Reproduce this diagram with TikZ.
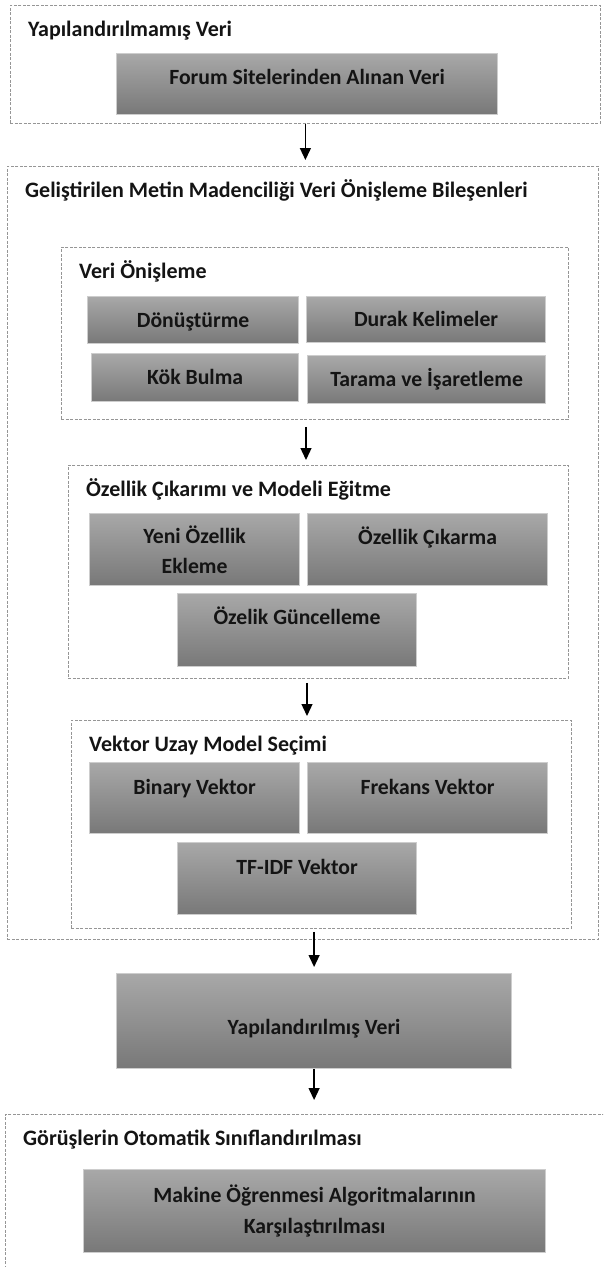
\documentclass[tikz,border=0pt]{standalone}
\usepackage{fontspec}
\setmainfont{Carlito}
\definecolor{kutuust}{RGB}{168,168,168}
\definecolor{kutualt}{RGB}{120,120,120}
\definecolor{kutukenar}{RGB}{205,205,205}
\definecolor{kesikgri}{RGB}{150,150,150}
\definecolor{yazirengi}{RGB}{20,20,20}
\usepackage{tikz}
\usetikzlibrary{arrows.meta,positioning,calc}

\begin{document}
\begin{tikzpicture}[x=1pt,y=-1pt,
  kutu/.style={draw=kutukenar, line width=1.2pt, top color=kutuust, bottom color=kutualt,
    anchor=north west, inner sep=0pt, align=center, text=yazirengi,
    font=\fontsize{21.7}{30.5}\selectfont\bfseries},
  cerceve/.style={draw=kesikgri, line width=0.8pt, dash pattern=on 3pt off 1.5pt,
    anchor=north west, inner sep=0pt},
  baslik/.style={anchor=base west, inner sep=0pt, text=yazirengi,
    font=\fontsize{22}{30.5}\selectfont\bfseries},
  ok/.style={-{Triangle[width=11pt,length=12pt]}, line width=1.3pt, shorten <=4pt, shorten >=5pt}]

  \useasboundingbox (0,0) rectangle (603,1267);
  \clip (0,0) rectangle (603,1267);
  \fill[white] (0,0) rectangle (603,1267);

  % dashed frames with their titles
  \foreach \ad/\x/\y/\w/\h/\metin in {%
    c1/10/5/590/118/{Yapılandırılmamış Veri},%
    c2/7/166/591/773/{Geliştirilen Metin Madenciliği Veri Önişleme Bileşenleri},%
    c3/61/247/507/172/{Veri Önişleme},%
    c4/68/465/500/213/{Özellik Çıkarımı ve Modeli Eğitme},%
    c5/71/720/500/208/{Vektor Uzay Model Seçimi},%
    c6/5/1114/620/170/{Görüşlerin Otomatik Sınıflandırılması}%
  }{
    \node[cerceve, minimum width=\w pt, minimum height=\h pt] (\ad) at (\x,\y) {};
    \node[baslik] (\ad-b) at ([shift={(18,31)}]\ad.north west) {\metin};
  }

  % gray boxes
  \node[kutu, minimum width=381pt, minimum height=61pt, text height=15pt, text depth=14pt] (forum) at (116,53) {Forum Sitelerinden Alınan Veri};
  \node[kutu, minimum width=211pt, minimum height=47pt, text height=15pt, text depth=1pt] (donus) at (87,296) {Dönüştürme};
  \node[kutu, minimum width=239pt, minimum height=46pt, text height=15pt, text depth=1pt] (durak) at (306,296) {Durak Kelimeler};
  \node[kutu, minimum width=207pt, minimum height=48pt, text height=15pt, text depth=1pt] (kok) at (91,353) {Kök Bulma};
  \node[kutu, minimum width=238pt, minimum height=48pt, text height=15pt, text depth=1pt] (tarama) at (307,355) {Tarama ve İşaretleme};
  \node[kutu, minimum width=210pt, minimum height=72pt] (yeni) at (89,513) {Yeni Özellik\\Ekleme};
  \node[kutu, minimum width=240pt, minimum height=72pt, text height=15pt, text depth=25pt] (cikarma) at (307,513) {Özellik Çıkarma};
  \node[kutu, minimum width=239pt, minimum height=73pt, text height=15pt, text depth=26pt] (guncel) at (177,593) {Özelik Güncelleme};
  \node[kutu, minimum width=210pt, minimum height=71pt, text height=15pt, text depth=22pt] (binary) at (89,762) {Binary Vektor};
  \node[kutu, minimum width=240pt, minimum height=71pt, text height=15pt, text depth=22pt] (frekans) at (307,762) {Frekans Vektor};
  \node[kutu, minimum width=239pt, minimum height=72pt, text height=15pt, text depth=23pt] (tfidf) at (177,842) {TF-IDF Vektor};
  \node[kutu, minimum width=395pt, minimum height=95pt, text height=28pt, text depth=1pt] (yapveri) at (116,973) {Yapılandırılmış Veri};
  \node[kutu, minimum width=462pt, minimum height=83pt] (makine) at (83,1169) {Makine Öğrenmesi Algoritmalarının\\Karşılaştırılması};

  % arrows
  \draw[ok, shorten <=0pt, shorten >=6pt] (c1.south) -- (c1.south |- c2.north);
  \draw[ok, shorten <=7pt] (c3.south -| durak.west) -- (c4.north -| durak.west);
  \draw[ok, shorten >=4pt] (c4.south -| cikarma.west) -- (c5.north -| cikarma.west);
  \draw[ok, shorten <=3pt, shorten >=6pt] (c5.south -| yapveri.north) -- (yapveri.north);
  \draw[ok, shorten <=0pt, shorten >=14pt] (yapveri.south) -- (yapveri.south |- c6.north);
\end{tikzpicture}
\end{document}
